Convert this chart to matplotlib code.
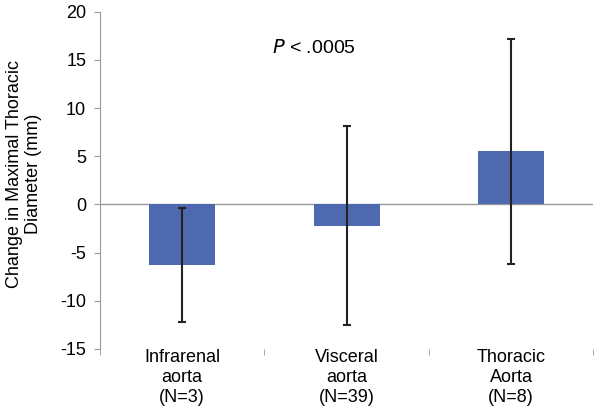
import matplotlib.pyplot as plt
import numpy as np

plt.rcParams['font.family'] = ['Liberation Sans', 'DejaVu Sans']
plt.rcParams['axes.unicode_minus'] = False

categories = ["Infrarenal\naorta\n(N=3)", "Visceral\naorta\n(N=39)", "Thoracic\nAorta\n(N=8)"]
means = [-6.3, -2.2, 5.5]
errors = [5.9, 10.3, 11.7]
yticks = [-15, -10, -5, 0, 5, 10, 15, 20]

fig = plt.figure(figsize=(6, 4.11), dpi=100)
ax = fig.add_axes([0.1667, 0.151, 0.822, 0.8205])

x = np.arange(len(categories))
ax.bar(x, means, width=0.4, color="#4f69b1", zorder=2)
ax.errorbar(x, means, yerr=errors, fmt="none", ecolor="#222222",
            elinewidth=1.5, capsize=3, capthick=1.5, zorder=3)

ax.axhline(0, color="#999999", linewidth=1, zorder=1)

ax.set_xlim(-0.5, 2.5)
ax.set_ylim(-15, 20)
ax.set_yticks(yticks)
ax.set_xticks(x)
ax.set_xticklabels(categories, linespacing=1.25)
ax.set_xticks([-0.5, 0.5, 1.5, 2.5], minor=True)
ax.tick_params(axis="x", which="major", length=0, pad=0, labelsize=13)
ax.tick_params(axis="x", which="minor", length=4, color="#999999")
ax.tick_params(axis="y", length=4, color="#999999", labelsize=13, pad=6)

for side in ["top", "right", "bottom"]:
    ax.spines[side].set_visible(False)
ax.spines["left"].set_color("#999999")

ax.set_ylabel("Change in Maximal Thoracic\nDiameter (mm)", fontsize=13)
ax.yaxis.set_label_coords(-0.117, 0.52)

ax.text(0.8, 16.2, r"$\it{P}$ < .0005", fontsize=14, ha="center", va="center")

fig.savefig("out.png")
